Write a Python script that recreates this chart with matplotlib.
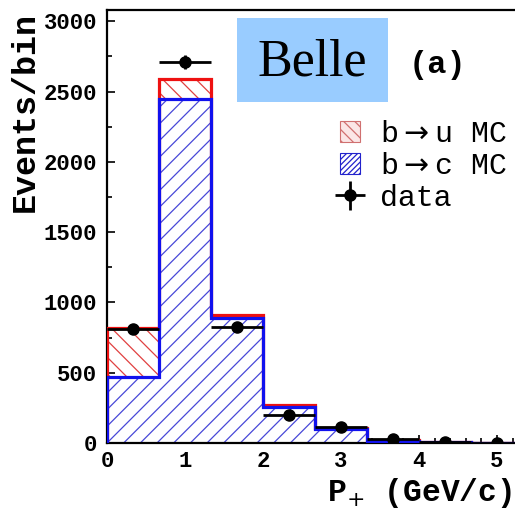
import numpy as np
import matplotlib
matplotlib.use("Agg")
import matplotlib.pyplot as plt
from matplotlib.patches import Patch, Rectangle
from matplotlib.ticker import MultipleLocator

# ---- data ----
bin_edges = [0, 2/3, 4/3, 2, 8/3, 10/3, 4, 14/3, 16/3]
bc_mc = [472, 2450, 890, 255, 100, 16, 5, 2]       # b->c MC
bu_mc = [348, 140, 20, 15, 8, 3, 1, 1]              # b->u MC (stacked on top)
data_x = [1/3, 1.0, 5/3, 7/3, 3.0, 11/3, 13/3, 5.0]
data_y = [810, 2710, 825, 200, 112, 26, 8, 3]
data_xerr = [1/3] * 8
data_yerr = [28, 52, 29, 14, 11, 5, 3, 2]

mono = ['Liberation Mono', 'DejaVu Sans Mono']
plt.rcParams['hatch.linewidth'] = 0.9

fig = plt.figure(figsize=(5.15, 5.12), dpi=100)
ax = fig.add_axes([107/515, 1 - 443/512, 416/515, 433/512])

edges = np.array(bin_edges)
bc = np.array(bc_mc)
total = bc + np.array(bu_mc)

red = '#ee1111'
blue = '#1111ee'
# hatched fills
ax.stairs(total, edges, fill=True, facecolor='white', edgecolor='#e04040',
          hatch='\\\\', linewidth=0, zorder=1)
ax.stairs(bc, edges, fill=True, facecolor='white', edgecolor='#4848d8',
          hatch='//', linewidth=0, zorder=2)
# outlines
ax.stairs(total, edges, fill=False, color=red, linewidth=2.3, zorder=3)
ax.stairs(bc, edges, fill=False, color=blue, linewidth=2.3, zorder=4)

eb = ax.errorbar(data_x, data_y, xerr=data_xerr, yerr=data_yerr, fmt='o',
                 color='black', markersize=8, elinewidth=2.0, capsize=0,
                 zorder=6)

ax.set_xlim(0, 16/3)
ax.set_ylim(0, 3080)

ax.xaxis.set_major_locator(MultipleLocator(1))
ax.xaxis.set_minor_locator(MultipleLocator(0.2))
ax.yaxis.set_major_locator(MultipleLocator(500))
ax.yaxis.set_minor_locator(MultipleLocator(250))
ax.tick_params(which='both', direction='in', top=False, right=False,
               width=1.2, color='black')
ax.tick_params(which='major', length=6)
ax.tick_params(which='minor', length=3.5)
ax.tick_params(axis='y', which='major', pad=7)
ax.tick_params(axis='x', which='major', pad=6)
for lab in ax.get_xticklabels() + ax.get_yticklabels():
    lab.set_fontfamily(mono)
    lab.set_fontweight('bold')
    lab.set_fontsize(16)

for s in ['left', 'top', 'bottom']:
    ax.spines[s].set_linewidth(1.6)
    ax.spines[s].set_color('black')
ax.spines['right'].set_visible(False)

# axis labels
fig.text(25/515, 1 - 112/512, 'Events/bin', rotation=90, ha='center',
         va='center', family=mono, fontweight='bold', fontsize=24)
fig.text(512/515, 1 - 493/512, r'P$_{+}$ (GeV/c)', ha='right', va='center',
         family=mono, fontweight='bold', fontsize=22.5)

# Belle box
fig.patches.append(Rectangle((237/515, 1 - 102/512), 151/515, 84/512,
                             transform=fig.transFigure, facecolor='#99ccff',
                             edgecolor='none', zorder=10))
fig.text(312/515, 1 - 62/512, 'Belle', ha='center', va='center',
         family=['Liberation Serif', 'DejaVu Serif'], fontsize=37.5, zorder=11)
fig.text(438/515, 1 - 65/512, '(a)', ha='center', va='center',
         family=mono, fontweight='bold', fontsize=23)

# legend
h_bu = Patch(facecolor='#fbe6e6', edgecolor='#d07070', hatch='\\\\\\', linewidth=0.8)
h_bc = Patch(facecolor='white', edgecolor='#2222cc', hatch='//////', linewidth=0.8)
leg = fig.legend([h_bu, h_bc, eb],
                 [r'b$\rightarrow$u MC', r'b$\rightarrow$c MC', 'data'],
                 loc='upper left', bbox_to_anchor=(340/515, 1 - 120/512),
                 frameon=False, prop={'family': mono, 'size': 21.5},
                 handlelength=0.67, handleheight=0.67, handletextpad=0.67,
                 labelspacing=0.13, borderpad=0, borderaxespad=0)

fig.savefig('out.png', dpi=100)
